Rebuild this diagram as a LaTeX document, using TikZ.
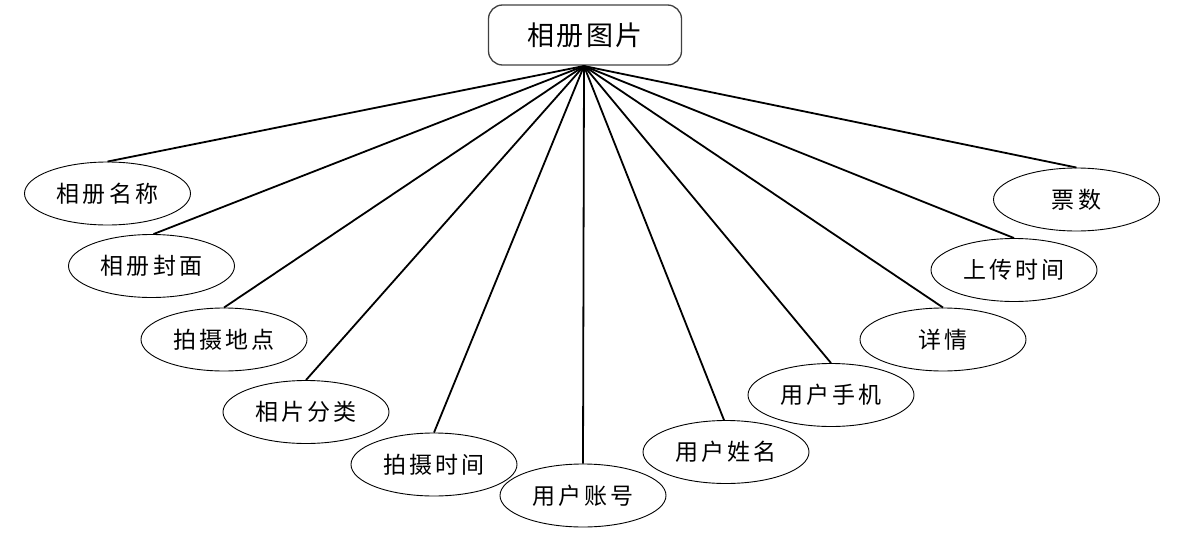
\documentclass[tikz,border=0pt]{standalone}
\usepackage{fontspec}
\newfontfamily\cjk{Noto Sans CJK SC}[LetterSpace=14]
\newfontfamily\cjktop{Noto Sans CJK SC}[LetterSpace=8]
\usetikzlibrary{shapes.geometric}
\begin{document}
\begin{tikzpicture}[x=1pt,y=-1pt,
  attr/.style={draw=black, line width=0.9pt, ellipse, minimum width=166pt, minimum height=63pt, inner sep=0pt, font=\cjk\fontsize{23}{23}\selectfont},
  entity/.style={draw=black!75, line width=1.3pt, rounded corners=14pt, minimum width=193pt, minimum height=60pt, inner sep=0pt, font=\cjktop\fontsize{27}{27}\selectfont},
  link/.style={line width=1.8pt, black}]
\useasboundingbox (0,0) rectangle (1195,541);
\node[entity] (top) at (585,35) {相册图片};
\node[attr] (a1) at (107.5,193.5) {相册名称};
\node[attr] (a2) at (151.5,266) {相册封面};
\node[attr] (a3) at (224,339.5) {拍摄地点};
\node[attr] (a4) at (306,412) {相片分类};
\node[attr] (a5) at (434,464.5) {拍摄时间};
\node[attr] (a6) at (583,495.5) {用户账号};
\node[attr] (a7) at (726,452) {用户姓名};
\node[attr] (a8) at (831,395) {用户手机};
\node[attr] (a9) at (943,339.5) {详情};
\node[attr] (a10) at (1014,270) {上传时间};
\node[attr] (a11) at (1076.5,199.5) {票数};
\coordinate (hub) at (584,66);
\foreach \i/\dx in {1/0,2/2,3/0,4/0,5/0,6/0,7/-2,8/0,9/0,10/0,11/0}{
  \draw[link] (hub) -- ([xshift=\dx pt]a\i.north);
}
\end{tikzpicture}
\end{document}
